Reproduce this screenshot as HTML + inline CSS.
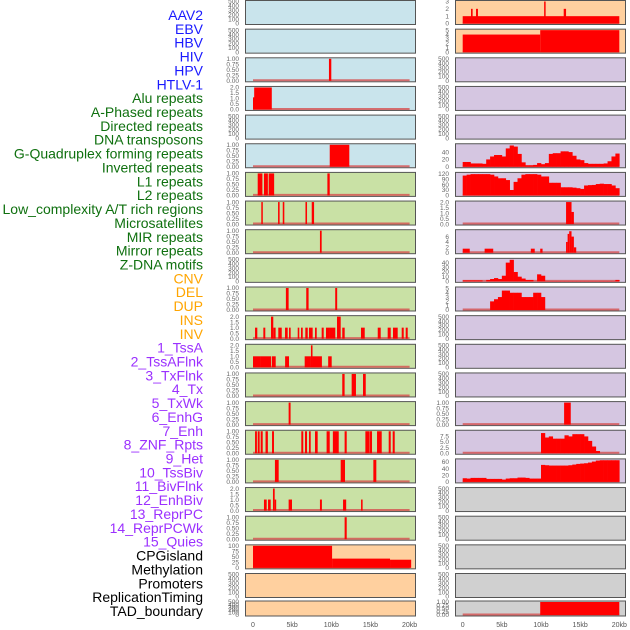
<!DOCTYPE html>
<html><head><meta charset="utf-8">
<style>
html,body{margin:0;padding:0;background:#fff;}
svg{display:block;font-family:"Liberation Sans",sans-serif;}
</style></head>
<body>
<svg id="chart" width="630" height="630" viewBox="0 0 630 630" xmlns="http://www.w3.org/2000/svg">
<g id="labels"></g>
<g id="panels"></g>
<g id="xaxes"></g>
</svg>
<script>
// ---------- data ----------
const trackNames = ["AAV2","EBV","HBV","HIV","HPV","HTLV-1","Alu repeats","A-Phased repeats","Directed repeats","DNA transposons","G-Quadruplex forming repeats","Inverted repeats","L1 repeats","L2 repeats","Low_complexity A/T rich regions","Microsatellites","MIR repeats","Mirror repeats","Z-DNA motifs","CNV","DEL","DUP","INS","INV","1_TssA","2_TssAFlnk","3_TxFlnk","4_Tx","5_TxWk","6_EnhG","7_Enh","8_ZNF_Rpts","9_Het","10_TssBiv","11_BivFlnk","12_EnhBiv","13_ReprPC","14_ReprPCWk","15_Quies","CPGisland","Methylation","Promoters","ReplicationTiming","TAD_boundary"];
const trackGroups = ["v","v","v","v","v","v","r","r","r","r","r","r","r","r","r","r","r","r","r","s","s","s","s","s","c","c","c","c","c","c","c","c","c","c","c","c","c","c","c","o","o","o","o","o"];
const xTickLabels = ["0","5kb","10kb","15kb","20kb"];
const xTickValues = [0,5,10,15,20];

const ticks500 = ["0","100","200","300","400","500"];
const ticks1 = ["0.00","0.25","0.50","0.75","1.00"];
const ticks2 = ["0.0","0.5","1.0","1.5","2.0"];
const ticks3 = ["0","1","2","3"];
const ticks5 = ["0","1","2","3","4","5"];
const ticks100 = ["0","25","50","75","100"];
const ticks40 = ["0","20","40"];
const ticks120 = ["0","30","60","90","120"];
const ticks6 = ["0","2","4","6"];
const ticks40b = ["0","10","20","30","40"];
const ticks75 = ["0.0","2.5","5.0","7.5"];
const ticks60 = ["0","20","40","60"];

// interval data: [startKb, endKb, value]
const hivLeft = [[9.7,10.0,1]];
const hpvLeft = [[0.0,0.15,1.1],[0.15,2.4,2]];
const gquadLeft = [[9.8,12.3,1]];
const invertedLeft = [[0.6,1.2,1],[1.4,1.9,1],[2.0,2.7,1],[9.5,9.8,1]];
const l1Left = [[1.06,1.24,1],[3.2,3.4,1],[3.8,4.0,1],[6.7,6.9,1],[7.5,7.8,1]];
const l2Left = [[8.55,8.77,1]];
const microLeft = [[4.2,4.55,1],[6.8,7.1,1],[10.5,10.75,1]];
const mirLeft = [[0.26,0.55,1],[1.32,1.57,1],[2.3,2.59,2],[2.59,2.89,1],[3.23,3.67,1],[4.09,4.43,1],[4.6,4.81,1],[5.71,5.91,1],[6.13,6.35,1],[6.68,6.99,1],[7.15,7.62,1],[7.92,8.14,1],[8.77,9.03,1],[9.32,9.83,1],[9.83,10.51,1],[10.73,11.2,2],[11.4,11.71,1],[13.79,14.27,1],[15.93,16.31,1],[17.2,17.59,1],[17.88,18.48,1],[18.99,19.25,1],[19.5,19.76,1]];
const mirrorLeft = [[0.0,0.9,1],[0.9,2.3,1],[2.4,2.9,1],[4.1,4.6,1],[6.6,7.4,1],[7.4,7.6,2],[7.6,8.8,1],[9.6,10.05,1]];
const zdnaLeft = [[11.4,11.7,1],[12.6,13.15,1],[14.05,14.4,1]];
const cnvLeft = [[4.55,4.8,1]];
const delLeft = [[0.26,0.5,1],[0.6,0.85,1],[0.98,1.24,1],[1.6,1.9,1],[2.43,2.68,1],[6.17,6.42,1],[6.64,6.9,1],[7.15,7.37,1],[7.92,8.26,1],[9.4,9.8,1],[10.2,10.95,1],[11.7,11.97,1],[14.35,14.86,1],[14.9,15.2,1],[15.84,16.44,1],[17.33,17.59,1],[17.84,18.1,1]];
const dupLeft = [[2.8,3.28,1],[11.2,11.75,1],[15.37,15.75,1]];
const insLeft = [[1.4,1.75,1],[1.92,2.26,1],[2.55,2.77,2],[2.77,2.9,1],[4.55,4.98,1],[8.55,8.8,1],[11.5,11.9,1],[13.8,14.0,1]];
const invLeft = [[11.7,11.97,1]];
const cpgLeft = [[0,10.1,100],[10.1,17.5,42],[17.5,20.2,37]];

const aav2Right = [[0,20,1],[1.06,1.27,2],[1.7,1.95,2],[12.9,13.2,2],[10.4,10.5,3]];
const ebvRight = [[0,9.9,4],[9.9,20,5]];
const lowcxRight = [[13.2,13.9,2],[13.9,14.2,1.1]];
const msatRight = [[0,0.9,1.5],[2.8,3.9,1.5],[8.7,9.2,1.5],[9.9,10.2,1.5],[13.2,13.4,4],[13.4,13.6,7],[13.6,13.9,8],[13.9,14.2,6],[14.2,14.5,2]];
const tssaRight = [[12.95,13.8,1]];
const tadRight = [[9.9,20,1]];

// binned profiles: 40 bins of 0.5 kb
const gquadRight = [13,13,9,9,9,8,20,28,32,32,28,50,58,55,35,12,4,4,5,10,7,10,35,37,37,42,42,40,30,20,18,10,8,8,8,8,9,15,28,36];
const l1Right = [110,115,118,118,118,118,118,115,105,95,95,85,30,75,95,115,118,118,118,115,105,105,70,70,70,45,45,45,43,40,36,55,57,58,63,65,63,63,55,40];
const mirRight = [2,2,2,2,2,0,3,5,7,5,12,40,46,20,10,6,3,3,0,15,12,0.5,0.5,0.5,0.5,0.5,0.5,0.5,0.5,0.5,0.5,0.5,0.5,0.5,0.5,0.5,0.5,0.5,0.5,3];
const mirrorRight = [0,0,0,0,0,0,0,2,2.5,3,4.5,4.5,4,4,4,3,3,3,4,4,3,0,0,0,0,0,0,0,0,0,0,0,0,0,0,0,0,0,0,0];
const enhRight = [0,0,0,0,0,0,0,0,0,0,0,0,0,0,0,0,0,0,0,0,9,7,7.5,6.5,6.5,6.5,8,7.5,8.5,8.5,8.5,7.5,5.5,3,1,0,0,0,0,0];
const znfRight = [11,10,12,12,12,12,9,9,9,9,7,10,11,11,13,13,12,10,10,10,51,50,49,49,49,49,49,50,52,54,55,56,58,61,64,65,65,65,65,65];

// panel config: col, row, background, ymax, tick labels, interval data, binned data
const panelDefs = [
 [0,0,"b",500,ticks500,null,null],[0,1,"b",500,ticks500,null,null],[0,2,"b",1,ticks1,hivLeft,null],
 [0,3,"b",2,ticks2,hpvLeft,null],[0,4,"b",500,ticks500,null,null],[0,5,"b",1,ticks1,gquadLeft,null],
 [0,6,"g",1,ticks1,invertedLeft,null],[0,7,"g",1,ticks1,l1Left,null],[0,8,"g",1,ticks1,l2Left,null],
 [0,9,"g",500,ticks500,null,null],[0,10,"g",1,ticks1,microLeft,null],[0,11,"g",2,ticks2,mirLeft,null],
 [0,12,"g",2,ticks2,mirrorLeft,null],[0,13,"g",1,ticks1,zdnaLeft,null],[0,14,"g",1,ticks1,cnvLeft,null],
 [0,15,"g",1,ticks1,delLeft,null],[0,16,"g",1,ticks1,dupLeft,null],[0,17,"g",2,ticks2,insLeft,null],
 [0,18,"g",1,ticks1,invLeft,null],[0,19,"p",100,ticks100,cpgLeft,null],[0,20,"p",500,ticks500,null,null],
 [0,21,"p",500,ticks500,null,null],
 [1,0,"p",3,ticks3,aav2Right,null],[1,1,"p",5,ticks5,ebvRight,null],[1,2,"l",500,ticks500,null,null],
 [1,3,"l",500,ticks500,null,null],[1,4,"l",500,ticks500,null,null],[1,5,"l",60,ticks40,null,gquadRight],
 [1,6,"l",122,ticks120,null,l1Right],[1,7,"l",2,ticks2,lowcxRight,null],[1,8,"l",8.2,ticks6,msatRight,null],
 [1,9,"l",47,ticks40b,null,mirRight],[1,10,"l",5.1,ticks5,null,mirrorRight],[1,11,"l",500,ticks500,null,null],
 [1,12,"l",500,ticks500,null,null],[1,13,"l",500,ticks500,null,null],[1,14,"l",1,ticks1,tssaRight,null],
 [1,15,"l",9.8,ticks75,null,enhRight],[1,16,"l",66,ticks60,null,znfRight],[1,17,"d",500,ticks500,null,null],
 [1,18,"d",500,ticks500,null,null],[1,19,"d",500,ticks500,null,null],[1,20,"d",500,ticks500,null,null],
 [1,21,"d",1,ticks1,tadRight,null]
];

// ---------- drawing ----------
const NS = "http://www.w3.org/2000/svg";
const bgColors = {b:"#c9e4ec", g:"#c9e1a5", p:"#ffd09f", l:"#d5c6e1", d:"#d0d0d0"};
const groupColors = {v:"#1a1aff", r:"#0f700f", s:"#ffa500", c:"#9b30ff", o:"#000000"};
const colLeft = [245, 455], colRight = [416, 626];
const zeroX = [253, 462.7], kbPx = 7.83;
function xScale(col, kb){ return zeroX[col] + kb*kbPx; }
function panelTop(row){ return row===21 ? 601 : 0.5 + row*28.65; }
function panelH(row){ return row===21 ? 15 : 24; }
function yScale(row, ymax, v){ const b = panelTop(row)+panelH(row)-1, t = panelTop(row)+1; return b - (v/ymax)*(b-t); }
function mk(tag, attrs, parent){ const e=document.createElementNS(NS,tag); for(const k in attrs) e.setAttribute(k, attrs[k]); parent.appendChild(e); return e; }

const labG = document.getElementById("labels");
trackNames.forEach((n,i)=>{
  const t = mk("text",{x:203, y:20+i*13.86, "text-anchor":"end", "font-size":"14", fill:groupColors[trackGroups[i]]}, labG);
  t.textContent = n;
  
  
});

const pG = document.getElementById("panels");
panelDefs.forEach(d=>{
  const [col,row,bg,ymax,ticks,ints,bins] = d;
  const g = mk("g",{},pG);
  
  
  const top = panelTop(row), h = panelH(row);
  const r = mk("rect",{x:colLeft[col]+0.5, y:top, width:colRight[col]-colLeft[col]-1, height:h, fill:bgColors[bg], stroke:"#555", "stroke-width":1}, g);
  
  
  if(ints || bins){
    const base = mk("line",{x1:xScale(col,0), x2:xScale(col,20), y1:top+h-1.5, y2:top+h-1.5, stroke:"#d65050", "stroke-width":2, opacity:0.8}, g);
    
    
  }
  if(ints){
    ints.forEach(iv=>{
      const x0 = xScale(col,iv[0]), x1 = xScale(col,iv[1]);
      const y = yScale(row,ymax,iv[2]);
      const br = mk("rect",{x:x0, y:y, width:Math.max(1.5,x1-x0), height:(top+h-1)-y, fill:"#ff0000"}, g);
      
      
    });
  }
  if(bins){
    bins.forEach((v,i)=>{
      if(v<=0) return;
      const x0 = xScale(col,i*0.5), x1 = xScale(col,(i+1)*0.5);
      const y = yScale(row,ymax,v);
      const br = mk("rect",{x:x0, y:y, width:x1-x0+0.3, height:(top+h-1)-y, fill:"#ff0000"}, g);
      
      
    });
  }
  ticks.forEach(tl=>{
    const v = parseFloat(tl);
    const y = yScale(row,ymax,v);
    const tx = mk("text",{x:colLeft[col]-6, y:y+2.2, "text-anchor":"end", "font-size":"6.5", fill:"#666"}, g);
    tx.textContent = tl;
    
    
  });
});

const xG = document.getElementById("xaxes");
[0,1].forEach(col=>{
  xTickValues.forEach((v,i)=>{
    const t = mk("text",{x:xScale(col,v), y:627, "text-anchor":"middle", "font-size":"7", fill:"#555"}, xG);
    t.textContent = xTickLabels[i];
    
    
  });
});
</script>
</body></html>
